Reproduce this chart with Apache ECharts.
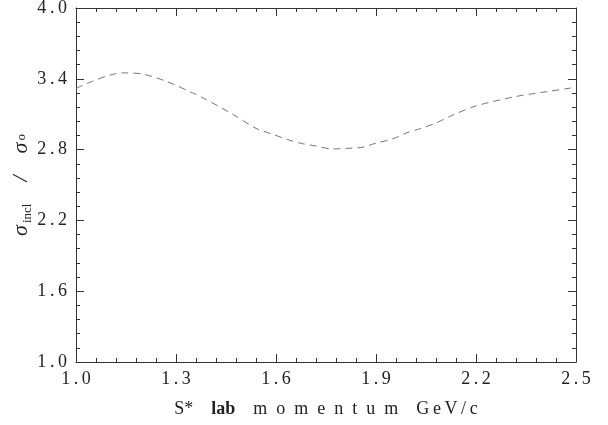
<!DOCTYPE html>
<html>
<head>
<meta charset="utf-8">
<script src="https://cdn.jsdelivr.net/npm/echarts@6/dist/echarts.min.js"></script>
<style>
  html, body { margin: 0; padding: 0; background: #fff; }
  #main { width: 608px; height: 425px; }
</style>
</head>
<body>
<div id="main"></div>
<script>
// values
var momentum = [1.0, 1.05, 1.1, 1.14, 1.2, 1.27, 1.35, 1.38, 1.47, 1.54, 1.59, 1.64, 1.68, 1.72, 1.77, 1.81, 1.86, 1.9, 1.95, 1.99, 2.03, 2.08, 2.12, 2.2, 2.32, 2.41, 2.48, 2.5];
var ratio    = [3.32, 3.38, 3.43, 3.45, 3.44, 3.38, 3.28, 3.24, 3.10, 2.98, 2.93, 2.88, 2.85, 2.83, 2.805, 2.81, 2.82, 2.855, 2.89, 2.94, 2.975, 3.025, 3.08, 3.17, 3.25, 3.29, 3.32, 3.33];

var xTicks = [1.0, 1.3, 1.6, 1.9, 2.2, 2.5];
var yTicks = [1.0, 1.6, 2.2, 2.8, 3.4, 4.0];

var myChart = echarts.init(document.getElementById('main'));

var font = 'Liberation Serif';
var axisLineStyle = { color: '#333', width: 1 };

// the original typesetting is widely tracked
function spread(s, gap) {
  return s.split('').join(gap);
}

function tickText(v) {
  return spread(v.toFixed(1), '\u2009');
}

function xAxisOf(pos, showLabels) {
  return {
    type: 'value',
    position: pos,
    min: xTicks[0],
    max: xTicks[xTicks.length - 1],
    interval: 0.3,
    axisLine: { show: true, lineStyle: axisLineStyle },
    axisTick: { show: true, inside: true, length: 8, lineStyle: axisLineStyle },
    minorTick: { show: true, splitNumber: 5, length: 4, lineStyle: axisLineStyle },
    splitLine: { show: false },
    axisLabel: {
      show: showLabels,
      fontFamily: font,
      fontSize: 18,
      color: '#222',
      margin: 8,
      formatter: tickText
    }
  };
}

function yAxisOf(pos, showLabels) {
  return {
    type: 'value',
    position: pos,
    min: yTicks[0],
    max: yTicks[yTicks.length - 1],
    interval: 0.6,
    axisLine: { show: true, lineStyle: axisLineStyle },
    axisTick: { show: true, inside: true, length: 8, lineStyle: axisLineStyle },
    minorTick: { show: true, splitNumber: 5, length: 4, lineStyle: axisLineStyle },
    splitLine: { show: false },
    axisLabel: {
      show: showLabels,
      fontFamily: font,
      fontSize: 18,
      color: '#222',
      margin: 9,
      formatter: tickText
    }
  };
}

var en = '\u2002';
var thin = '\u2009';
var xBottom = xAxisOf('bottom', true);
xBottom.name = '{n|S*}{g| }{b|lab}{n|' + en + en +
  spread('momentum', en) + en + en + spread('GeV/c', thin) + '}';
xBottom.nameLocation = 'middle';
xBottom.nameGap = 38;
xBottom.nameMoveOverlap = false;
xBottom.nameTextStyle = {
  rich: {
    n: { fontFamily: font, fontSize: 18, color: '#222' },
    g: { fontFamily: font, fontSize: 18, width: 18 },
    b: { fontFamily: font, fontSize: 18, color: '#222', fontWeight: 'bold' }
  }
};

var yLeft = yAxisOf('left', true);
yLeft.name = '{s|σ}{sub|incl}{s|' + en + en + '/' + en + en + 'σ}{sup|o}';
yLeft.nameLocation = 'middle';
yLeft.nameGap = 42;
yLeft.nameMoveOverlap = false;
yLeft.nameTextStyle = {
  rich: {
    s: { fontFamily: font, fontSize: 22, color: '#222', fontStyle: 'italic' },
    sub: { fontFamily: font, fontSize: 13, color: '#222', verticalAlign: 'bottom', padding: [12, 0, 0, 2] },
    sup: { fontFamily: font, fontSize: 13, color: '#222', padding: [0, 0, 0, 2] }
  }
};

myChart.setOption({
  animation: false,
  backgroundColor: '#fff',
  grid: { left: 76, right: 32, top: 8, bottom: 63, outerBoundsMode: 'none' },
  xAxis: [xBottom, xAxisOf('top', false)],
  yAxis: [yLeft, yAxisOf('right', false)],
  series: [
    {
      type: 'line',
      smooth: 0.3,
      symbol: 'none',
      data: momentum.map(function (m, i) { return [m, ratio[i]]; }),
      lineStyle: { color: '#777', width: 1, type: [7, 5] }
    }
  ]
});
</script>
</body>
</html>
